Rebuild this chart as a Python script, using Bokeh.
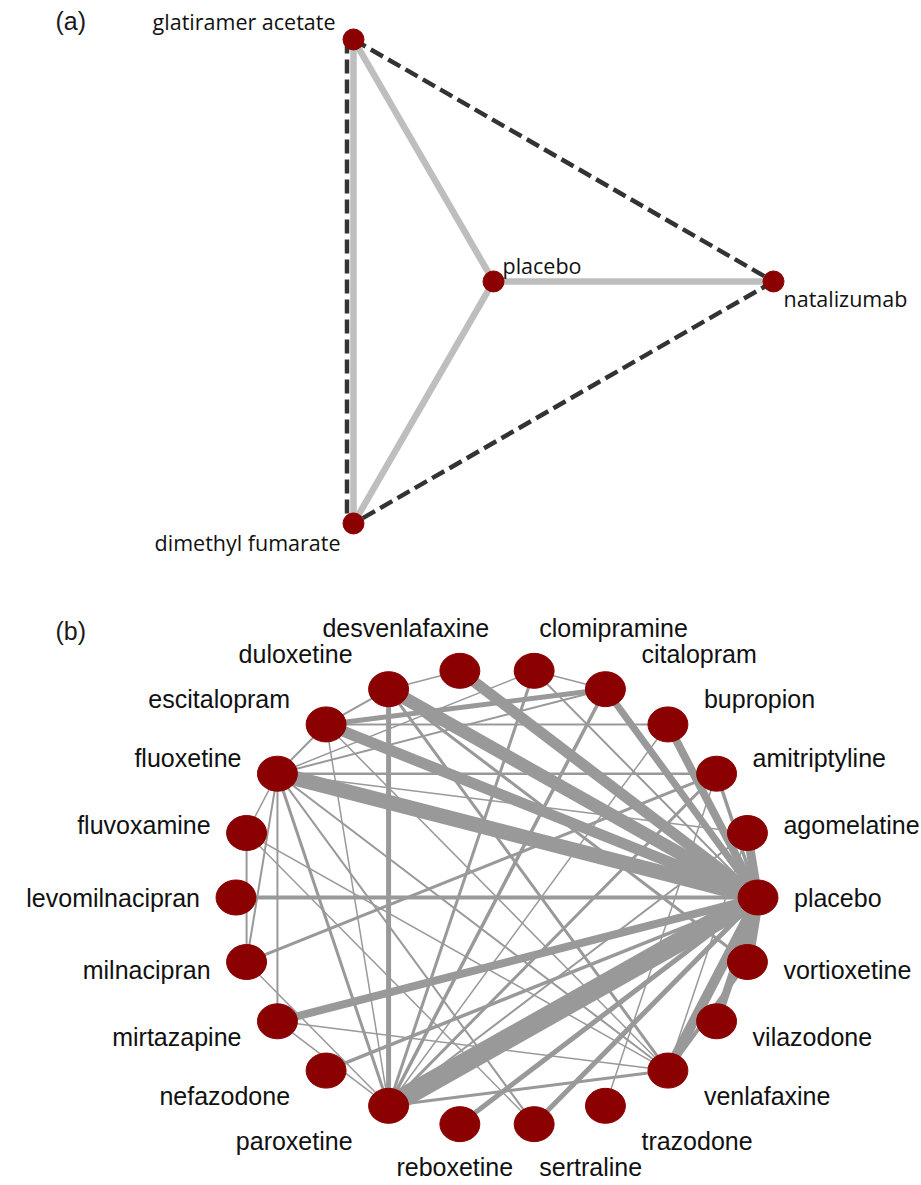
import numpy as np
from bokeh.plotting import figure
from bokeh.models import ColumnDataSource, Label, Range1d
from bokeh.layouts import column
from bokeh.embed import file_html
from bokeh.resources import INLINE
from bokeh.core.properties import value

# ---------------- data: panel (a) ----------------
a_nodes = ["glatiramer acetate", "placebo", "natalizumab", "dimethyl fumarate"]
a_layout_x = [0, 1, 3, 0]
a_layout_y = [1, 0, 0, -1]
a_label_side = ["NW", "NE", "SE", "SW"]
a_direct_from = ["glatiramer acetate", "dimethyl fumarate", "placebo", "glatiramer acetate"]
a_direct_to = ["placebo", "placebo", "natalizumab", "dimethyl fumarate"]
a_indirect_from = ["glatiramer acetate", "natalizumab", "glatiramer acetate"]
a_indirect_to = ["natalizumab", "dimethyl fumarate", "dimethyl fumarate"]

# ---------------- data: panel (b) ----------------
b_nodes = ["placebo", "agomelatine", "amitriptyline", "bupropion", "citalopram",
           "clomipramine", "desvenlafaxine", "duloxetine", "escitalopram", "fluoxetine",
           "fluvoxamine", "levomilnacipran", "milnacipran", "mirtazapine", "nefazodone",
           "paroxetine", "reboxetine", "sertraline", "trazodone", "venlafaxine",
           "vilazodone", "vortioxetine"]

edge_from = ["placebo", "placebo", "placebo", "placebo", "placebo", "placebo",
             "placebo", "placebo", "placebo", "placebo", "placebo", "placebo",
             "placebo", "placebo", "placebo", "placebo", "placebo", "placebo",
             "duloxetine", "citalopram", "bupropion", "duloxetine", "escitalopram",
             "escitalopram", "amitriptyline", "citalopram", "clomipramine", "fluoxetine",
             "fluoxetine", "fluoxetine", "fluoxetine", "fluoxetine", "fluoxetine",
             "fluoxetine", "fluvoxamine", "fluvoxamine", "fluvoxamine", "amitriptyline",
             "milnacipran", "mirtazapine", "mirtazapine", "citalopram", "clomipramine",
             "citalopram", "bupropion", "amitriptyline", "agomelatine", "paroxetine",
             "duloxetine", "duloxetine", "desvenlafaxine", "agomelatine", "venlafaxine",
             "amitriptyline", "escitalopram"]
edge_to = ["agomelatine", "amitriptyline", "bupropion", "citalopram", "clomipramine",
           "desvenlafaxine", "duloxetine", "escitalopram", "fluoxetine", "levomilnacipran",
           "mirtazapine", "nefazodone", "paroxetine", "reboxetine", "sertraline",
           "venlafaxine", "vilazodone", "vortioxetine",
           "paroxetine", "escitalopram", "escitalopram", "escitalopram", "fluoxetine",
           "paroxetine", "fluoxetine", "fluoxetine", "fluoxetine", "fluvoxamine",
           "mirtazapine", "milnacipran", "paroxetine", "agomelatine", "venlafaxine",
           "sertraline", "milnacipran", "venlafaxine", "sertraline", "milnacipran",
           "paroxetine", "paroxetine", "venlafaxine", "clomipramine", "paroxetine",
           "paroxetine", "paroxetine", "paroxetine", "paroxetine", "venlafaxine",
           "venlafaxine", "vortioxetine", "duloxetine", "venlafaxine", "vortioxetine",
           "trazodone", "venlafaxine"]
n_studies = [18, 7, 16, 14, 4, 22, 26, 22, 30, 8, 16, 7, 40, 10, 10, 20, 16, 22,
             10, 10, 4, 4, 4, 3, 5, 4, 3, 3, 4, 4, 6, 3, 4, 4, 4, 3, 3, 6,
             3, 3, 3, 3, 6, 7, 3, 6, 4, 6, 6, 6, 3, 3, 8, 3, 3]

# label nudges (screen px) for crowded labels at the top of the circle
label_nudge = {"desvenlafaxine": -49}

# ---------------- layout constants ----------------
W = 921
HA = 590
HB = 595
NODE_RED = "#8B0000"


def blank(p):
    p.grid.visible = False
    p.outline_line_color = None
    p.background_fill_color = "white"
    p.border_fill_color = "white"


# ================= panel (a) =================
AX0, AX1, AY0, AY1 = -2.5214, 4.0571, -1.277, 1.161
pa = figure(width=W, height=HA, x_range=Range1d(AX0, AX1), y_range=Range1d(AY0, AY1),
            output_backend="svg", toolbar_location=None, min_border=0,
            x_axis_location=None, y_axis_location=None)
blank(pa)

ax_px = W / (AX1 - AX0)
ay_px = HA / (AY1 - AY0)
apos = {n: (x, y) for n, x, y in zip(a_nodes, a_layout_x, a_layout_y)}

dxs = [[apos[f][0], apos[t][0]] for f, t in zip(a_direct_from, a_direct_to)]
dys = [[apos[f][1], apos[t][1]] for f, t in zip(a_direct_from, a_direct_to)]
pa.multi_line(xs=dxs, ys=dys, line_color="#BEBEBE", line_width=6.5)

direct_pairs = set(frozenset(p) for p in zip(a_direct_from, a_direct_to))
ixs, iys = [], []
for f, t in zip(a_indirect_from, a_indirect_to):
    (x0, y0), (x1, y1) = apos[f], apos[t]
    ox = oy = 0.0
    if frozenset((f, t)) in direct_pairs:
        sx, sy = (x1 - x0) * ax_px, -(y1 - y0) * ay_px
        L = np.hypot(sx, sy)
        px_, py_ = -sy / L * 6.5, sx / L * 6.5
        ox, oy = px_ / ax_px, -py_ / ay_px
    ixs.append([x0 + ox, x1 + ox])
    iys.append([y0 + oy, y1 + oy])
pa.multi_line(xs=ixs, ys=iys, line_color="#333333", line_width=4.5, line_dash="14 6")

pa.scatter(x=a_layout_x, y=a_layout_y, size=21, fill_color=NODE_RED, line_color=NODE_RED)

side_style = {"NW": ("right", -18, -18), "NE": ("left", 9, -16),
              "SE": ("left", 10, 17), "SW": ("right", -13, 19)}
a_src = ColumnDataSource(dict(
    x=a_layout_x, y=a_layout_y, text=a_nodes,
    align=[side_style[s][0] for s in a_label_side],
    xo=[side_style[s][1] for s in a_label_side],
    yo=[side_style[s][2] for s in a_label_side]))
pa.text(x="x", y="y", text="text", source=a_src, text_align="align", text_baseline="middle",
        x_offset="xo", y_offset="yo", text_font=value("Open Sans"), text_font_size="21.5px",
        text_color="#111111")

pa.add_layout(Label(x=55, y=HA - 20, x_units="screen", y_units="screen", text="(a)",
                    text_font="Liberation Sans", text_font_size="25px", text_baseline="middle",
                    text_color="#1a1a1a"))

# ================= panel (b) =================
BX0, BX1, BY0, BY1 = -1.9023, 1.6264, -1.2576, 1.3406
pb = figure(width=W, height=HB, x_range=Range1d(BX0, BX1), y_range=Range1d(BY0, BY1),
            output_backend="svg", toolbar_location=None, min_border=0,
            x_axis_location=None, y_axis_location=None)
blank(pb)

nb = len(b_nodes)
theta = 2 * np.pi * np.arange(nb) / nb
bx = np.cos(theta)
by = np.sin(theta)
bpos = {n: (x, y) for n, x, y in zip(b_nodes, bx, by)}

exs = [[bpos[f][0], bpos[t][0]] for f, t in zip(edge_from, edge_to)]
eys = [[bpos[f][1], bpos[t][1]] for f, t in zip(edge_from, edge_to)]
ew = [0.5 * n for n in n_studies]
order = np.argsort(ew)
pb.multi_line(xs=[exs[i] for i in order], ys=[eys[i] for i in order],
              line_width=[ew[i] for i in order], line_color="#999999")

pb.ellipse(x=bx, y=by, width=0.153, height=0.153, fill_color=NODE_RED, line_color=NODE_RED)

c = np.cos(theta)
s = np.sin(theta)
b_align = ["left" if ci > 0.1 else ("right" if ci < -0.2 else "center") for ci in c]
xo = np.sign(c) * 36 * np.clip((np.abs(c) - 0.1) / 0.3, 0, 1)
xo = xo + np.array([label_nudge.get(n, 0) for n in b_nodes])
yo = -(28 * s + 16 * s ** 5)
b_src = ColumnDataSource(dict(x=bx, y=by, text=b_nodes, align=b_align, xo=xo, yo=yo))
pb.text(x="x", y="y", text="text", source=b_src, text_align="align", text_baseline="middle",
        x_offset="xo", y_offset="yo", text_font=value("Liberation Sans"), text_font_size="25px",
        text_color="#111111")

pb.add_layout(Label(x=55, y=HB - 40, x_units="screen", y_units="screen", text="(b)",
                    text_font="Liberation Sans", text_font_size="25px", text_baseline="middle",
                    text_color="#1a1a1a"))

layout = column(pa, pb, spacing=0)
open("out.html", "w").write(file_html(layout, INLINE))
